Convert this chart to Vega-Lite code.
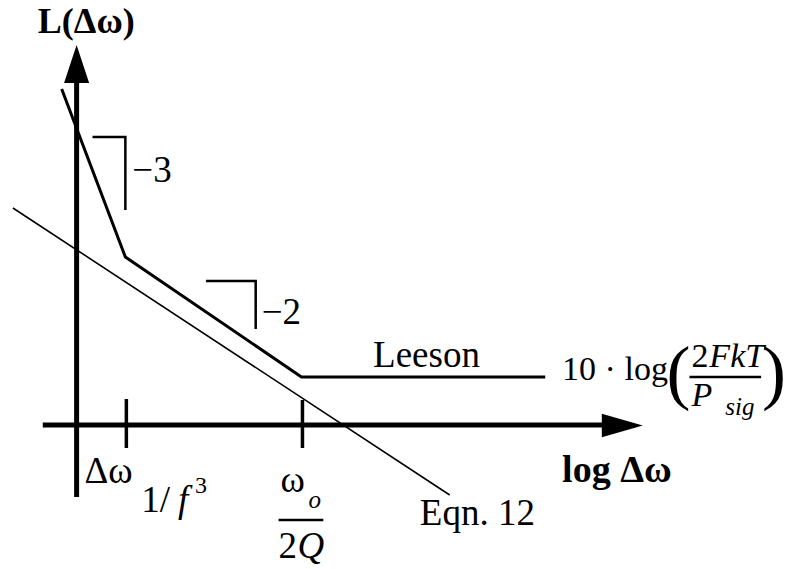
{
  "$schema": "https://vega.github.io/schema/vega-lite/v6.json",
  "width": 786,
  "height": 569,
  "padding": 0,
  "autosize": {"type": "fit", "contains": "padding"},
  "background": "white",
  "config": {"view": {"stroke": null}},
  "datasets": {
    "paths": [
      {"g": "axis", "id": "yaxis", "o": 0, "x": 77, "y": 497},
      {"g": "axis", "id": "yaxis", "o": 1, "x": 77, "y": 78},
      {"g": "axis", "id": "xaxis", "o": 0, "x": 43, "y": 425},
      {"g": "axis", "id": "xaxis", "o": 1, "x": 610, "y": 425},
      {"g": "tick", "id": "t1", "o": 0, "x": 127, "y": 399},
      {"g": "tick", "id": "t1", "o": 1, "x": 127, "y": 448},
      {"g": "tick", "id": "t2", "o": 0, "x": 304, "y": 400},
      {"g": "tick", "id": "t2", "o": 1, "x": 304, "y": 448},
      {"g": "leeson", "id": "leeson", "o": 0, "x": 62, "y": 89},
      {"g": "leeson", "id": "leeson", "o": 1, "x": 126, "y": 257},
      {"g": "leeson", "id": "leeson", "o": 2, "x": 303, "y": 377},
      {"g": "leeson", "id": "leeson", "o": 3, "x": 548, "y": 377},
      {"g": "eqn", "id": "eqn12", "o": 0, "x": 13, "y": 208},
      {"g": "eqn", "id": "eqn12", "o": 1, "x": 452, "y": 495},
      {"g": "slope", "id": "s3", "o": 0, "x": 93, "y": 137},
      {"g": "slope", "id": "s3", "o": 1, "x": 126, "y": 137},
      {"g": "slope", "id": "s3", "o": 2, "x": 126, "y": 210},
      {"g": "slope", "id": "s2", "o": 0, "x": 207, "y": 281},
      {"g": "slope", "id": "s2", "o": 1, "x": 257, "y": 281},
      {"g": "slope", "id": "s2", "o": 2, "x": 257, "y": 329},
      {"g": "frac", "id": "f1", "o": 0, "x": 280, "y": 520},
      {"g": "frac", "id": "f1", "o": 1, "x": 325, "y": 520},
      {"g": "frac", "id": "f2", "o": 0, "x": 693, "y": 377},
      {"g": "frac", "id": "f2", "o": 1, "x": 765, "y": 377}
    ],
    "arrows": [
      {"dir": "up", "x": 77, "y": 64},
      {"dir": "right", "x": 625.5, "y": 425.5}
    ],
    "labels": [
      {"s": "bold", "t": "L(Δω)", "x": 38, "y": 33},
      {"s": "bold2", "t": "log Δω", "x": 565, "y": 482},
      {"s": "reg", "t": "−3", "x": 133, "y": 182},
      {"s": "reg", "t": "−2", "x": 263, "y": 324},
      {"s": "reg", "t": "Leeson", "x": 375, "y": 367},
      {"s": "reg", "t": "Eqn. 12", "x": 422, "y": 525},
      {"s": "reg", "t": "Δω", "x": 85, "y": 483},
      {"s": "reg", "t": "1/", "x": 142, "y": 512},
      {"s": "reg", "t": "ω", "x": 282, "y": 492},
      {"s": "reg", "t": "2", "x": 280, "y": 558},
      {"s": "mid", "t": "10 · log", "x": 565, "y": 380},
      {"s": "mid", "t": "2", "x": 695, "y": 367},
      {"s": "ital", "t": "f", "x": 179, "y": 512},
      {"s": "ital", "t": "Q", "x": 299, "y": 558},
      {"s": "midital", "t": "FkT", "x": 713, "y": 367},
      {"s": "midital", "t": "P", "x": 695, "y": 406},
      {"s": "small", "t": "3", "x": 196, "y": 493},
      {"s": "smallital", "t": "o", "x": 310, "y": 508},
      {"s": "smallital", "t": "sig", "x": 729, "y": 415},
      {"s": "paren", "t": "(", "x": 670, "y": 396},
      {"s": "paren", "t": ")", "x": 766, "y": 396}
    ]
  },
  "encoding": {
    "x": {"field": "x", "type": "quantitative", "scale": {"domain": [0, 786], "nice": false, "zero": false}, "axis": null},
    "y": {"field": "y", "type": "quantitative", "scale": {"domain": [0, 569], "nice": false, "zero": false, "reverse": true}, "axis": null}
  },
  "layer": [
    {
      "data": {"name": "paths"},
      "transform": [{"filter": "datum.g === 'axis'"}],
      "mark": {"type": "line", "color": "black", "strokeWidth": 5, "strokeCap": "butt"},
      "encoding": {"detail": {"field": "id"}, "order": {"field": "o"}}
    },
    {
      "data": {"name": "paths"},
      "transform": [{"filter": "datum.g === 'tick'"}],
      "mark": {"type": "line", "color": "black", "strokeWidth": 3.5, "strokeCap": "butt"},
      "encoding": {"detail": {"field": "id"}, "order": {"field": "o"}}
    },
    {
      "data": {"name": "paths"},
      "transform": [{"filter": "datum.g === 'leeson'"}],
      "mark": {"type": "line", "color": "black", "strokeWidth": 3, "strokeJoin": "miter"},
      "encoding": {"detail": {"field": "id"}, "order": {"field": "o"}}
    },
    {
      "data": {"name": "paths"},
      "transform": [{"filter": "datum.g === 'eqn'"}],
      "mark": {"type": "line", "color": "black", "strokeWidth": 1.6},
      "encoding": {"detail": {"field": "id"}, "order": {"field": "o"}}
    },
    {
      "data": {"name": "paths"},
      "transform": [{"filter": "datum.g === 'slope'"}],
      "mark": {"type": "line", "color": "black", "strokeWidth": 2.5, "strokeJoin": "miter"},
      "encoding": {"detail": {"field": "id"}, "order": {"field": "o"}}
    },
    {
      "data": {"name": "paths"},
      "transform": [{"filter": "datum.g === 'frac'"}],
      "mark": {"type": "line", "color": "black", "strokeWidth": 2.5},
      "encoding": {"detail": {"field": "id"}, "order": {"field": "o"}}
    },
    {
      "data": {"name": "arrows"},
      "transform": [{"filter": "datum.dir === 'up'"}],
      "mark": {"type": "point", "shape": "M0,-1L0.66,1L-0.66,1Z", "size": 1444, "filled": true, "color": "black", "opacity": 1}
    },
    {
      "data": {"name": "arrows"},
      "transform": [{"filter": "datum.dir === 'right'"}],
      "mark": {"type": "point", "shape": "M1,0L-1,0.57L-1,-0.57Z", "size": 1681, "filled": true, "color": "black", "opacity": 1}
    },
    {
      "data": {"name": "labels"},
      "transform": [{"filter": "datum.s === 'bold'"}],
      "mark": {"type": "text", "font": "Liberation Serif", "fontWeight": "bold", "fontSize": 36, "align": "left", "baseline": "alphabetic", "color": "black"},
      "encoding": {"text": {"field": "t"}}
    },
    {
      "data": {"name": "labels"},
      "transform": [{"filter": "datum.s === 'bold2'"}],
      "mark": {"type": "text", "font": "Liberation Serif", "fontWeight": "bold", "fontSize": 38, "align": "left", "baseline": "alphabetic", "color": "black"},
      "encoding": {"text": {"field": "t"}}
    },
    {
      "data": {"name": "labels"},
      "transform": [{"filter": "datum.s === 'reg'"}],
      "mark": {"type": "text", "font": "Liberation Serif", "fontSize": 37, "align": "left", "baseline": "alphabetic", "color": "black"},
      "encoding": {"text": {"field": "t"}}
    },
    {
      "data": {"name": "labels"},
      "transform": [{"filter": "datum.s === 'mid'"}],
      "mark": {"type": "text", "font": "Liberation Serif", "fontSize": 34, "align": "left", "baseline": "alphabetic", "color": "black"},
      "encoding": {"text": {"field": "t"}}
    },
    {
      "data": {"name": "labels"},
      "transform": [{"filter": "datum.s === 'ital'"}],
      "mark": {"type": "text", "font": "Liberation Serif", "fontStyle": "italic", "fontSize": 37, "align": "left", "baseline": "alphabetic", "color": "black"},
      "encoding": {"text": {"field": "t"}}
    },
    {
      "data": {"name": "labels"},
      "transform": [{"filter": "datum.s === 'midital'"}],
      "mark": {"type": "text", "font": "Liberation Serif", "fontStyle": "italic", "fontSize": 34, "align": "left", "baseline": "alphabetic", "color": "black"},
      "encoding": {"text": {"field": "t"}}
    },
    {
      "data": {"name": "labels"},
      "transform": [{"filter": "datum.s === 'small'"}],
      "mark": {"type": "text", "font": "Liberation Serif", "fontSize": 24, "align": "left", "baseline": "alphabetic", "color": "black"},
      "encoding": {"text": {"field": "t"}}
    },
    {
      "data": {"name": "labels"},
      "transform": [{"filter": "datum.s === 'smallital'"}],
      "mark": {"type": "text", "font": "Liberation Serif", "fontStyle": "italic", "fontSize": 25, "align": "left", "baseline": "alphabetic", "color": "black"},
      "encoding": {"text": {"field": "t"}}
    },
    {
      "data": {"name": "labels"},
      "transform": [{"filter": "datum.s === 'paren'"}],
      "mark": {"type": "text", "font": "Liberation Serif", "fontSize": 72, "align": "left", "baseline": "alphabetic", "color": "black"},
      "encoding": {"text": {"field": "t"}}
    }
  ]
}
